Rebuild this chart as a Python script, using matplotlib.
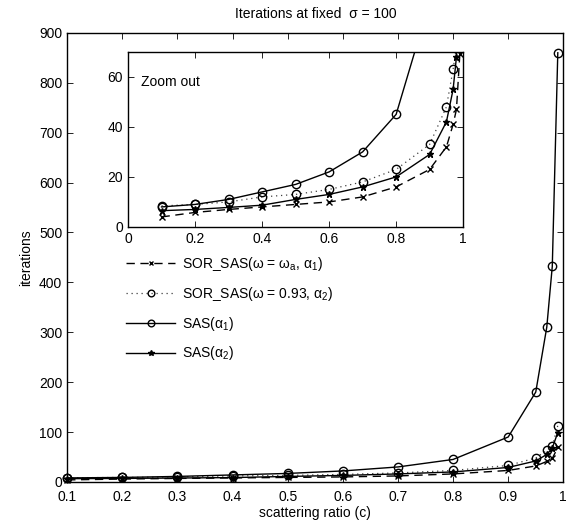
import numpy as np
import matplotlib
matplotlib.use("Agg")
import matplotlib.pyplot as plt

plt.rcParams['font.family'] = ['Liberation Sans', 'DejaVu Sans']
plt.rcParams['mathtext.fontset'] = 'custom'
plt.rcParams['mathtext.rm'] = 'Liberation Sans'
plt.rcParams['mathtext.it'] = 'Liberation Sans'
plt.rcParams['mathtext.default'] = 'regular'
plt.rcParams['font.size'] = 10

# scattering ratio
c = [0.1, 0.2, 0.3, 0.4, 0.5, 0.6, 0.7, 0.8, 0.9, 0.95, 0.97, 0.98, 0.99]
# iterations for each method
sor_a1 = [4, 5.8, 7, 8, 9, 10, 12, 16, 23, 32, 41, 47, 69]
sor_093 = [8.4, 9, 10, 12, 13, 15, 18, 23, 33, 48, 63, 72, 113]
sas_a1 = [8, 9, 11, 14, 17, 22, 30, 45, 90, 180, 310, 432, 860]
sas_a2 = [6.5, 7, 7.8, 8.7, 11, 13, 16, 20, 29, 42, 55, 68, 99]

labels = [r'SOR_SAS($\omega$ = $\omega_a$, $\alpha_1$)',
          r'SOR_SAS($\omega$ = 0.93, $\alpha_2$)',
          r'SAS($\alpha_1$)',
          r'SAS($\alpha_2$)']

main_xticks = [0.1, 0.2, 0.3, 0.4, 0.5, 0.6, 0.7, 0.8, 0.9, 1.0]
main_xlabels = ['0.1', '0.2', '0.3', '0.4', '0.5', '0.6', '0.7', '0.8', '0.9', '1']
main_yticks = [0, 100, 200, 300, 400, 500, 600, 700, 800, 900]
ins_xticks = [0, 0.2, 0.4, 0.6, 0.8, 1.0]
ins_xlabels = ['0', '0.2', '0.4', '0.6', '0.8', '1']
ins_yticks = [0, 20, 40, 60]


def draw(ax, clip):
    h1, = ax.plot(c, sor_a1, color='k', ls=(0, (6, 4)), lw=1, marker='x', ms=4,
                  mew=1, clip_on=clip)
    h2, = ax.plot(c, sor_093, color='0.25', ls=(0, (1, 3)), lw=0.9, marker='o',
                  ms=6, mfc='none', mec='k', mew=1, clip_on=clip)
    h3, = ax.plot(c, sas_a1, color='k', ls='-', lw=1, marker='o', ms=6,
                  mfc='none', mew=1, clip_on=clip)
    h4, = ax.plot(c, sas_a2, color='k', ls='-', lw=1, marker='*', ms=5,
                  mew=1, clip_on=clip)
    ax.tick_params(direction='in', top=True, right=True, length=4, width=0.6)
    for s in ax.spines.values():
        s.set_linewidth(1)
    return [h1, h2, h3, h4]


fig = plt.figure(figsize=(5.69, 5.29), dpi=100)
ax = fig.add_axes([0.118, 0.089, 0.872, 0.849])
handles = draw(ax, False)
ax.set_xlim(0.1, 1)
ax.set_ylim(0, 900)
ax.set_xticks(main_xticks)
ax.set_xticklabels(main_xlabels)
ax.set_yticks(main_yticks)
ax.tick_params(axis='x', pad=6)
ax.set_xlabel('scattering ratio (c)', labelpad=1)
ax.set_ylabel('iterations', labelpad=4)

leg = ax.legend(handles, labels, loc='upper left',
                bbox_to_anchor=(0.222, 0.518), bbox_transform=fig.transFigure,
                frameon=False, borderpad=0, borderaxespad=0,
                handlelength=3.5, handletextpad=0.5, labelspacing=0.85,
                fontsize=10, markerscale=0.8)

fig.text(0.555, 1 - 18 / 529, 'Iterations at fixed  σ = 100', ha='center',
         va='baseline', fontsize=10)

ins = fig.add_axes([0.225, 0.571, 0.589, 0.331])
draw(ins, True)
ins.set_xlim(0, 1)
ins.set_ylim(0, 70)
ins.set_xticks(ins_xticks)
ins.set_xticklabels(ins_xlabels)
ins.set_yticks(ins_yticks)
ins.text(0.04, 0.83, 'Zoom out', transform=ins.transAxes, va='center',
         fontsize=10)

fig.savefig('out.png', dpi=100)
